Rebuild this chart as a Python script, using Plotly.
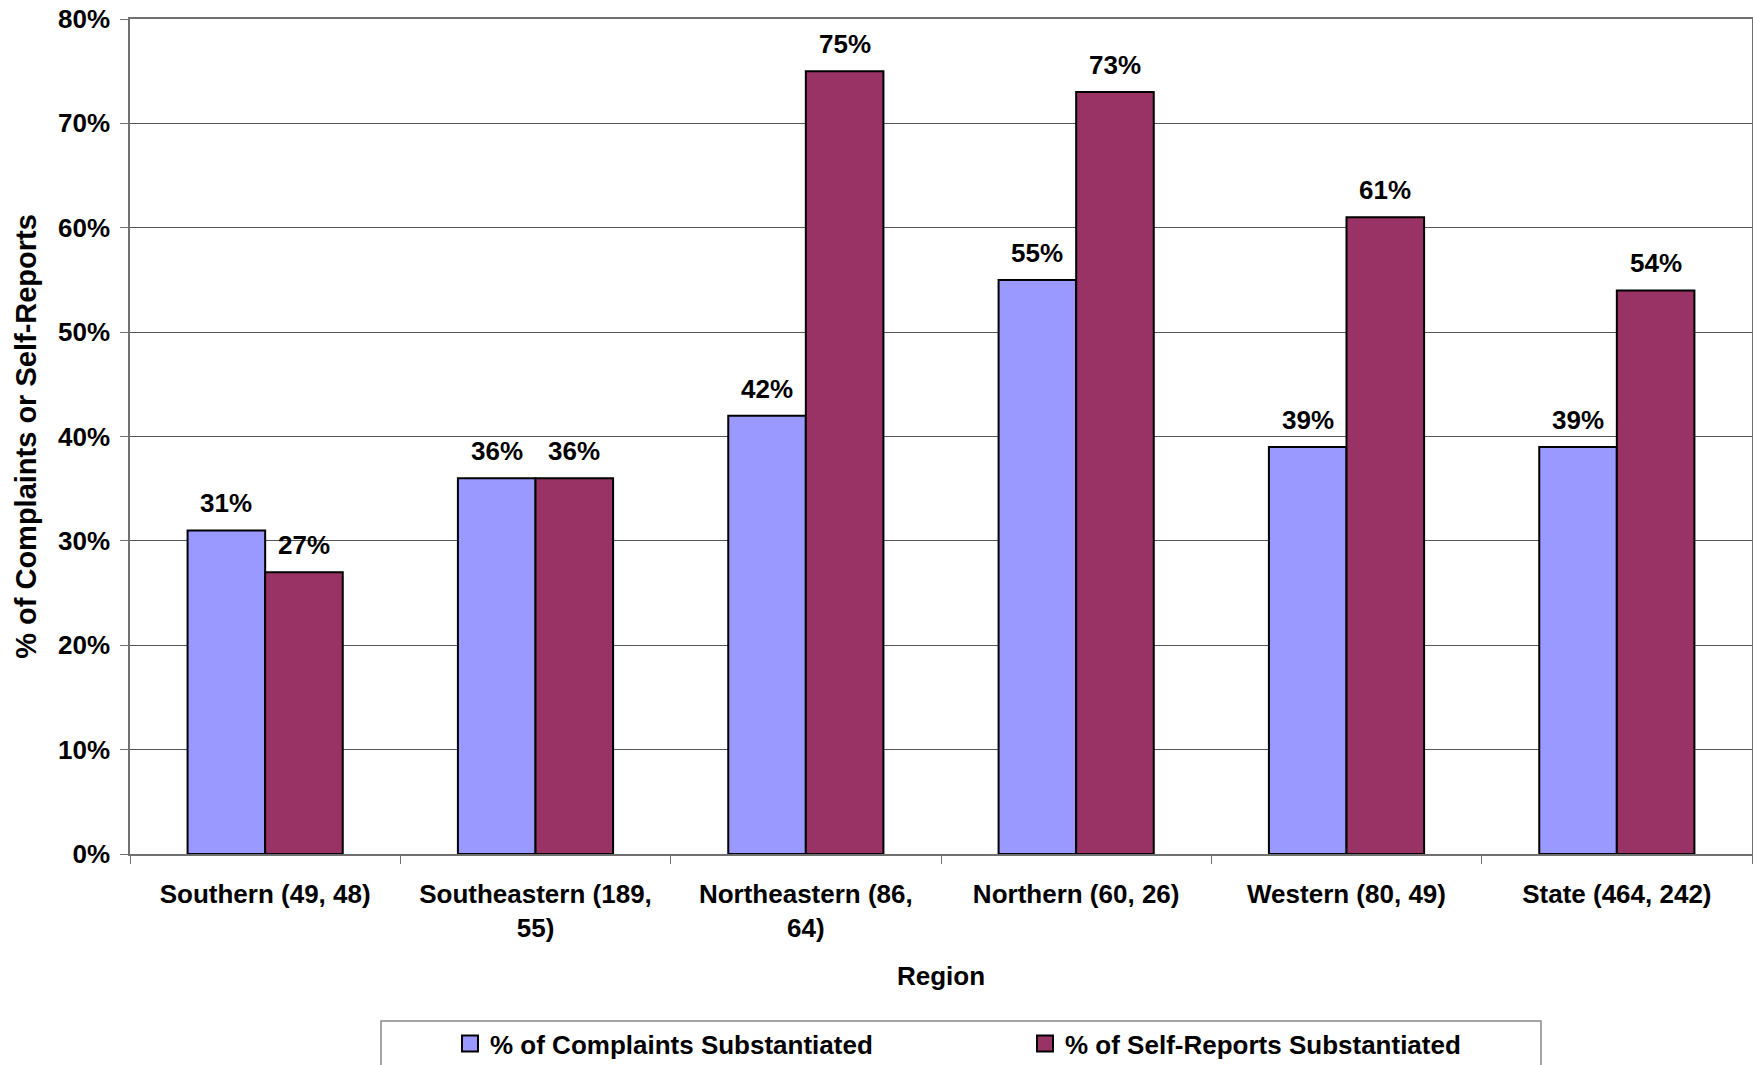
import plotly.graph_objects as go

categories = ["Southern (49, 48)", "Southeastern (189,<br>55)", "Northeastern (86,<br>64)",
              "Northern (60, 26)", "Western (80, 49)", "State (464, 242)"]
complaints = [0.31, 0.36, 0.42, 0.55, 0.39, 0.39]
self_reports = [0.27, 0.36, 0.75, 0.73, 0.61, 0.54]
series_names = ["% of Complaints Substantiated", "% of Self-Reports Substantiated"]
colors = ["#9999FF", "#993366"]

FONT = "Liberation Sans, Arial, sans-serif"
FS = 26

fig = go.Figure()
for name, vals, col in zip(series_names, [complaints, self_reports], colors):
    fig.add_trace(go.Bar(x=categories, y=vals, name=name, marker_color=col,
                         marker_line_color="black", marker_line_width=2, showlegend=False))
# legend entries with larger square swatches
for name, col in zip(series_names, colors):
    fig.add_trace(go.Scatter(x=[None], y=[None], mode="markers", name=name,
                             marker=dict(symbol="square", size=16, color=col,
                                         line=dict(color="black", width=2))))

bargap = 0.426
half = (1 - bargap) / 4
for vals, off in [(complaints, -half), (self_reports, half)]:
    for i, v in enumerate(vals):
        fig.add_annotation(x=i + off, y=v, xref="x", yref="y", text="<b>%d%%</b>" % round(v * 100),
                           showarrow=False, yanchor="middle", yshift=27,
                           font=dict(family=FONT, size=FS, color="black"))

fig.add_shape(type="rect", xref="paper", yref="paper", x0=(381 - 130) / 1622, x1=(1541 - 130) / 1622,
              y0=-(1072 - 854) / 835, y1=-(1021 - 854) / 835, line=dict(color="#888888", width=1.5),
              fillcolor="rgba(0,0,0,0)", layer="above")

fig.update_layout(
    width=1753, height=1065,
    margin=dict(l=130, r=1, t=19, b=211, autoexpand=False),
    paper_bgcolor="white", plot_bgcolor="white",
    barmode="group", bargap=bargap, bargroupgap=0,
    font=dict(family=FONT, size=FS, color="black"),
    showlegend=True,
    legend=dict(orientation="h", x=(1025 - 130) / 1622, xanchor="center", y=-(1020 - 854) / 835, yanchor="top",
                font=dict(family=FONT, size=FS, color="black", weight="bold"),
                bgcolor="rgba(0,0,0,0)", borderwidth=0, entrywidth=530, itemsizing="trace"),
    xaxis=dict(type="category", showline=True, linecolor="#707070", linewidth=1.5, mirror=True,
               ticks="outside", ticklen=8, tickcolor="#707070", tickson="boundaries", automargin=False,
               tickfont=dict(family=FONT, size=FS, color="black", weight="bold"),
               ticklabelstandoff=16,
               title=dict(text="<b>Region</b>", font=dict(family=FONT, size=FS), standoff=25)),
    yaxis=dict(range=[0, 0.8], dtick=0.1, tickformat=".0%", showline=True, linecolor="#707070",
               linewidth=1.5, mirror=True, ticks="outside", ticklen=8, tickcolor="#707070",
               showgrid=True, gridcolor="#555555", gridwidth=1, automargin=False,
               ticklabeloverflow="allow",
               tickfont=dict(family=FONT, size=FS, color="black", weight="bold"),
               ticklabelstandoff=5,
               title=dict(text="<b>% of Complaints or Self-Reports</b>", font=dict(family=FONT, size=29), standoff=13)),
)

fig.write_html("out.html", config={"displayModeBar": False},
               post_script="document.body.style.margin='0';")
